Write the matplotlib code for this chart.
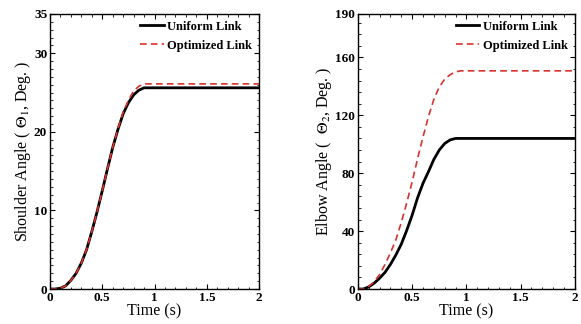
import numpy as np
import matplotlib
matplotlib.use('Agg')
import matplotlib.pyplot as plt
from matplotlib.ticker import MultipleLocator

plt.rcParams['font.family'] = 'Liberation Serif'
plt.rcParams['mathtext.fontset'] = 'stix'

# time samples (s)
t = [0, 0.05, 0.1, 0.15, 0.2, 0.25, 0.3, 0.35, 0.4, 0.45, 0.5, 0.55, 0.6, 0.65,
     0.7, 0.75, 0.8, 0.85, 0.9, 0.95, 1.0, 2.0]

shoulder_uniform = [0, 0, 0.1, 0.4, 1.1, 2.0, 3.3, 5.0, 7.3, 9.8, 12.5, 15.3, 18.0, 20.3,
                    22.3, 23.7, 24.7, 25.3, 25.6, 25.6, 25.6, 25.6]
shoulder_optimized = [0, 0, 0.1, 0.4, 1.1, 2.0, 3.3, 5.0, 7.3, 9.8, 12.5, 15.3, 18.0, 20.4,
                      22.5, 24.0, 25.2, 25.8, 26.1, 26.1, 26.1, 26.1]

elbow_uniform = [0, 0, 1.5, 4, 7.5, 11.5, 17, 23.5, 31, 40.5, 51, 63, 73, 81,
                 89.5, 96, 100.5, 103, 104, 104, 104, 104]
elbow_optimized = [0, 0, 1.8, 5, 10, 17, 25, 34, 46, 59.5, 74, 90, 105, 119,
                   131, 139.5, 145, 148, 150, 150.7, 150.7, 150.7]

x_ticks = [0, 0.5, 1, 1.5, 2]
x_labels = ['0', '0.5', '1', '1.5', '2']

fig = plt.figure(figsize=(5.81, 3.24), dpi=100)
ax1 = fig.add_axes([0.086, 0.108, 0.360, 0.849])
ax2 = fig.add_axes([0.616, 0.108, 0.3735, 0.849])

panels = [
    (ax1, shoulder_uniform, shoulder_optimized, [0, 35], [0, 10, 20, 30, 35], 1,
     r'Shoulder Angle ( $\Theta_{1}$, Deg. )'),
    (ax2, elbow_uniform, elbow_optimized, [0, 190], [0, 40, 80, 120, 160, 190], 8,
     r'Elbow Angle (  $\Theta_{2}$, Deg. )'),
]

for ax, uni, opt, ylim, yticks, yminor, ylabel in panels:
    ax.plot(t, uni, color='black', lw=2.0, label='Uniform Link')
    ax.plot(t, opt, color='#d7322e', lw=1.2, ls=(0, (4, 2.5)), label='Optimized Link')
    ax.set_xlim(0, 2)
    ax.set_ylim(*ylim)
    ax.set_xticks(x_ticks)
    ax.set_xticklabels(x_labels)
    ax.set_yticks(yticks)
    ax.xaxis.set_minor_locator(MultipleLocator(0.1))
    ax.yaxis.set_minor_locator(MultipleLocator(yminor))
    ax.tick_params(which='both', direction='in', top=True, right=True)
    ax.tick_params(which='major', length=3.5, width=0.8, labelsize=9.5, pad=2)
    ax.tick_params(which='minor', length=1.8, width=0.6)
    for lab in ax.get_xticklabels() + ax.get_yticklabels():
        lab.set_fontweight('bold')
    for s in ax.spines.values():
        s.set_linewidth(1.0)
    ax.set_xlabel('Time (s)', fontsize=11.5, labelpad=0)
    ax.set_ylabel(ylabel, fontsize=11.5, labelpad=1)
    ax.legend(loc='upper right', frameon=False, prop={'weight': 'bold', 'size': 9},
              handlelength=1.9, handletextpad=0.3, labelspacing=0.55,
              borderaxespad=0.15)

fig.savefig('out.png', dpi=100)
